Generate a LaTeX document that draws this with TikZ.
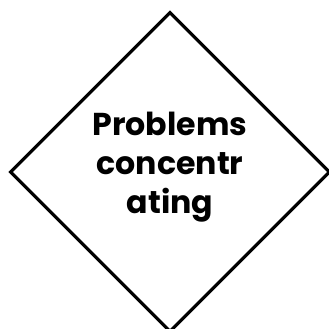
\documentclass[tikz,border=0pt]{standalone}
\usepackage{fontspec}
\setmainfont{Poppins}
\usetikzlibrary{shapes.geometric, positioning}
\tikzset{
    % decision box
    decision/.style={
        diamond,
        draw=black,
        fill=white,
        line width=2.2pt,
        minimum width=8cm,
        minimum height=8cm,
        aspect=1
    },
    label/.style={
        align=center,
        font=\fontsize{22.5}{27.5}\selectfont\bfseries
    }
}
\begin{document}
\begin{tikzpicture}
    \useasboundingbox (0,0) rectangle (8.225,8.225);
    \node[decision] (q1) at (4.25,3.925) {};
    \node[label] (q1text) at ([yshift=0.12cm]q1.center) {Problems\\concentr\\ating};
\end{tikzpicture}
\end{document}
